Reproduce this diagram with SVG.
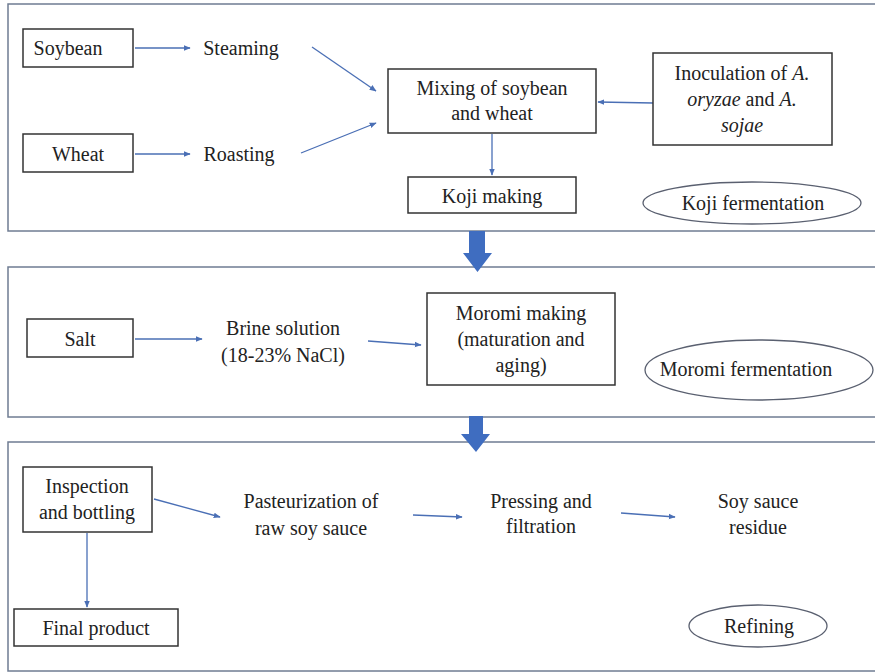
<svg xmlns="http://www.w3.org/2000/svg" width="875" height="672" viewBox="0 0 875 672" font-family="Liberation Serif, DejaVu Serif, serif">
<defs>
<style>
.panel{fill:#fff;stroke:#6f7c92;stroke-width:1.5}
.box{fill:#fff;stroke:#333;stroke-width:1.5}
.ell{fill:#fff;stroke:#5a6070;stroke-width:1.3}
text{font-size:20px;fill:#222;text-anchor:middle}
.c{stroke:#4a6fb5;stroke-width:1.3;fill:none;marker-end:url(#ah)}
.big{fill:#3f6dc0}
</style>
<marker id="ah" viewBox="0 0 10 10" refX="9" refY="5" markerWidth="7" markerHeight="7" markerUnits="userSpaceOnUse" orient="auto">
<path d="M0,1 L10,5 L0,9 z" fill="#4a6fb5"/>
</marker>
</defs>
<rect width="875" height="672" fill="#fff"/>
<g id="panels">
<rect id="panel-koji" class="panel" x="8" y="4" width="880" height="227"/>
<rect id="panel-moromi" class="panel" x="8" y="267" width="880" height="150"/>
<rect id="panel-refining" class="panel" x="8" y="442" width="880" height="229"/>
</g>
<g id="connectors">
<line class="c" x1="135" y1="48" x2="190" y2="48"/>
<line class="c" x1="135" y1="154" x2="190" y2="154"/>
<line class="c" x1="312" y1="47" x2="376" y2="91"/>
<line class="c" x1="301" y1="153" x2="376" y2="123"/>
<line class="c" x1="653" y1="103" x2="598" y2="102"/>
<line class="c" x1="492" y1="134" x2="492" y2="175"/>
<line class="c" x1="135" y1="339" x2="202" y2="339"/>
<line class="c" x1="368" y1="341" x2="421" y2="345"/>
<line class="c" x1="154" y1="499" x2="220" y2="517"/>
<line class="c" x1="87" y1="533" x2="87" y2="607"/>
<line class="c" x1="413" y1="515" x2="462" y2="517"/>
<line class="c" x1="621" y1="513" x2="675" y2="517"/>
<path id="bigarrow1" class="big" d="M469,231 H485 V253 H492 L477.5,272 L463,253 H469 Z"/>
<path id="bigarrow2" class="big" d="M469,416 H483 V434 H490 L476,452 L461,434 H469 Z"/>
</g>
<g id="soybean"><rect class="box" x="23" y="29" width="110" height="38"/><text x="68" y="55">Soybean</text></g>
<g id="steaming"><text x="241" y="55">Steaming</text></g>
<g id="wheat"><rect class="box" x="23" y="134" width="110" height="38"/><text x="78" y="161">Wheat</text></g>
<g id="roasting"><text x="239" y="161">Roasting</text></g>
<g id="mixing"><rect class="box" x="388" y="69" width="208" height="64"/><text x="492" y="95">Mixing of soybean</text><text x="492" y="120">and wheat</text></g>
<g id="inoculation"><rect class="box" x="653" y="53" width="179" height="92"/><text x="742" y="80">Inoculation of <tspan font-style="italic">A.</tspan></text><text x="742" y="106"><tspan font-style="italic">oryzae</tspan> and <tspan font-style="italic">A.</tspan></text><text x="742" y="132" font-style="italic">sojae</text></g>
<g id="koji-making"><rect class="box" x="408" y="177" width="168" height="36"/><text x="492" y="203">Koji making</text></g>
<g id="koji-fermentation"><ellipse class="ell" cx="752" cy="203" rx="109" ry="21"/><text x="753" y="210">Koji fermentation</text></g>
<g id="salt"><rect class="box" x="27" y="319" width="106" height="38"/><text x="80" y="346">Salt</text></g>
<g id="brine"><text x="283" y="335">Brine solution</text><text x="283" y="362">(18-23% NaCl)</text></g>
<g id="moromi-making"><rect class="box" x="427" y="293" width="188" height="92"/><text x="521" y="320">Moromi making</text><text x="521" y="346">(maturation and</text><text x="521" y="372">aging)</text></g>
<g id="moromi-fermentation"><ellipse class="ell" cx="759" cy="370" rx="114" ry="30"/><text x="746" y="376">Moromi fermentation</text></g>
<g id="inspection"><rect class="box" x="23" y="467" width="129" height="65"/><text x="87" y="493">Inspection</text><text x="87" y="519">and bottling</text></g>
<g id="pasteurization"><text x="311" y="508">Pasteurization of</text><text x="311" y="535">raw soy sauce</text></g>
<g id="final-product"><rect class="box" x="14" y="609" width="164" height="37"/><text x="96" y="635">Final product</text></g>
<g id="pressing"><text x="541" y="508">Pressing and</text><text x="541" y="533">filtration</text></g>
<g id="residue"><text x="758" y="508">Soy sauce</text><text x="758" y="534">residue</text></g>
<g id="refining"><ellipse class="ell" cx="758" cy="626" rx="69" ry="21"/><text x="759" y="633">Refining</text></g>
</svg>
